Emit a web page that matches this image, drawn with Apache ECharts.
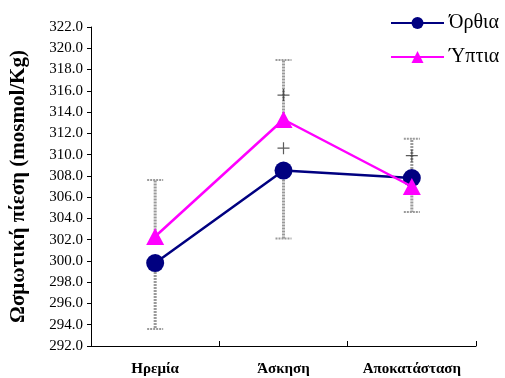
<!DOCTYPE html>
<html><head><meta charset="utf-8">
<script src="https://cdn.jsdelivr.net/npm/echarts@6/dist/echarts.min.js"></script>
<style>html,body{margin:0;padding:0;background:#fff}#c{width:505px;height:378px}</style>
</head><body><div id="c"></div>
<script>
var categories = ['Ηρεμία', 'Άσκηση', 'Αποκατάσταση'];
var seriesNames = ['Όρθια', 'Ύπτια'];
var orthia = [299.8, 308.5, 307.8];
var yptia = [302.3, 313.3, 307.0];
// error bar end values (null = not shown)
var orthiaErrLow = [293.6, 302.1, null];
var orthiaErrHigh = [null, null, 311.5];
var yptiaErrHigh = [307.6, 318.9, null];
var yptiaErrLow = [null, null, 304.6];
// significance "+" markers
var plusCat = [1, 1, 2];
var plusVal = [315.6, 310.6, 309.9];
var yMin = 292, yMax = 322, yStep = 2;

var errData = [];
[[orthia, orthiaErrLow], [orthia, orthiaErrHigh], [yptia, yptiaErrHigh], [yptia, yptiaErrLow]].forEach(function (p) {
  p[1].forEach(function (v, i) { if (v !== null) errData.push([i, p[0][i], v]); });
});
var plusData = plusCat.map(function (c, i) { return [c, plusVal[i]]; });

var chart = echarts.init(document.getElementById('c'));
var serif = '"Liberation Serif", "DejaVu Serif", serif';
chart.setOption({
  animation: false,
  grid: { left: 90, top: 27, right: 29, bottom: 32, containLabel: false },
  legend: {
    orient: 'vertical', left: 390, top: 13, padding: 0, itemWidth: 53, itemHeight: 15, itemGap: 14,
    textStyle: { fontFamily: serif, fontSize: 20, color: '#000' },
    data: seriesNames
  },
  xAxis: {
    type: 'category', data: categories, boundaryGap: true,
    axisLine: { lineStyle: { color: '#000', width: 1 } },
    axisTick: { show: true, alignWithLabel: false, length: 5, inside: true, lineStyle: { color: '#000' } },
    axisLabel: { fontFamily: serif, fontSize: 15, fontWeight: 'bold', color: '#000', margin: 16 }
  },
  yAxis: {
    type: 'value', min: yMin, max: yMax, interval: yStep,
    name: 'Ωσμωτική πίεση (mosmol/Kg)', nameLocation: 'middle', nameGap: 62,
    nameTextStyle: { fontFamily: serif, fontSize: 21, fontWeight: 'bold', color: '#000' },
    axisLine: { show: true, lineStyle: { color: '#000', width: 1 } },
    axisTick: { show: true, length: 4, lineStyle: { color: '#000' } },
    splitLine: { show: false },
    axisLabel: { fontFamily: serif, fontSize: 15, color: '#000', margin: 8,
      formatter: function (v) { return v.toFixed(1); } }
  },
  series: [
    {
      type: 'custom', name: 'err', z: 1, silent: true,
      renderItem: function (params, api) {
        var a = api.coord([api.value(0), api.value(1)]);
        var b = api.coord([api.value(0), api.value(2)]);
        return { type: 'group', children: [
          { type: 'line', shape: { x1: a[0], y1: a[1], x2: b[0], y2: b[1] },
            style: { stroke: '#9a9a9a', lineWidth: 3, lineDash: [2, 1] } },
          { type: 'line', shape: { x1: b[0] - 8, y1: b[1], x2: b[0] + 8, y2: b[1] },
            style: { stroke: '#9a9a9a', lineWidth: 2, lineDash: [2, 1] } }
        ] };
      },
      data: errData
    },
    {
      type: 'line', name: seriesNames[0], data: orthia, z: 3,
      symbol: 'circle', symbolSize: 18,
      lineStyle: { color: '#000080', width: 2.5 },
      itemStyle: { color: '#000080' }
    },
    {
      type: 'line', name: seriesNames[1], data: yptia, z: 4,
      symbol: 'triangle', symbolSize: [18, 17],
      lineStyle: { color: '#ff00ff', width: 2.5 },
      itemStyle: { color: '#ff00ff' }
    },
    {
      type: 'scatter', name: 'plus', data: plusData, z: 5, silent: true,
      symbol: 'path://M5.4,0 L6.6,0 L6.6,5.4 L12,5.4 L12,6.6 L6.6,6.6 L6.6,12 L5.4,12 L5.4,6.6 L0,6.6 L0,5.4 L5.4,5.4 Z',
      symbolSize: 12, itemStyle: { color: '#333' }
    }
  ]
});
</script></body></html>
